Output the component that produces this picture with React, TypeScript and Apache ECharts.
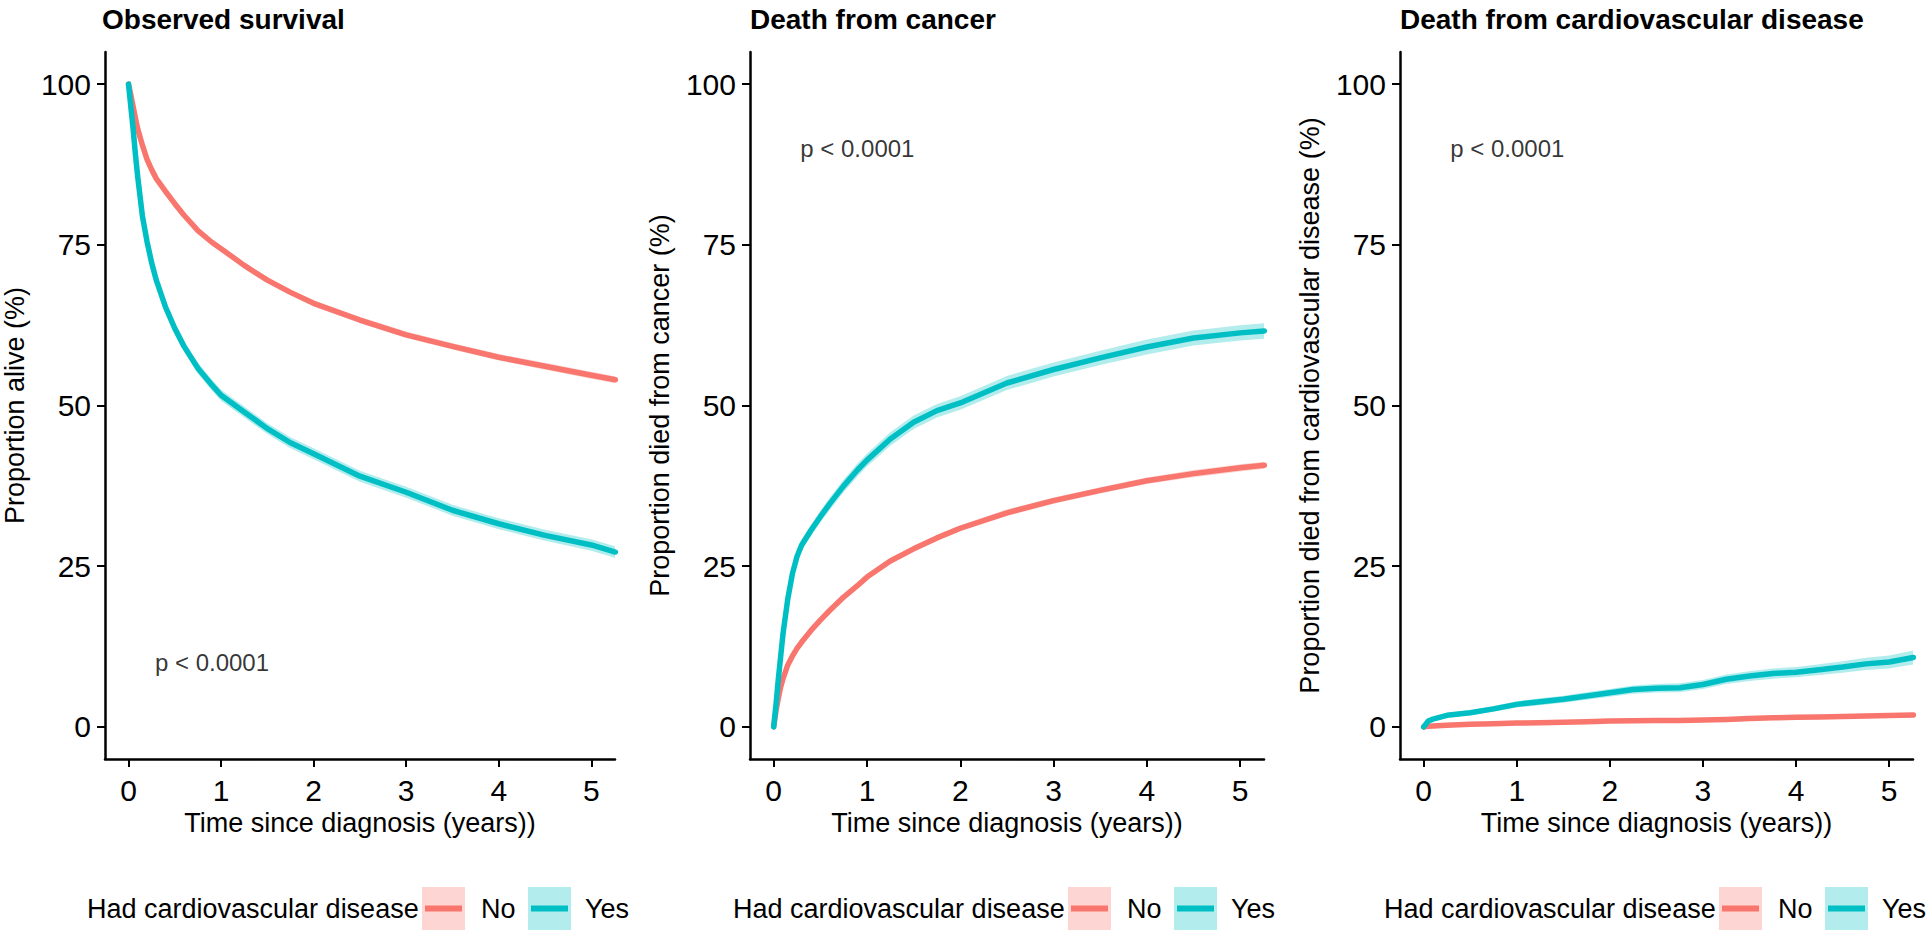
import React, { useEffect, useRef } from "react";
import * as echarts from "echarts";

// ---------- data ----------
const TIME = [0, 0.025, 0.05, 0.075, 0.1, 0.15, 0.2, 0.25, 0.3, 0.4, 0.5, 0.6, 0.75, 0.9, 1.0, 1.25, 1.5, 1.75, 2.0, 2.5, 3.0, 3.5, 4.0, 4.5, 5.0, 5.26];

const survivalNo = [100, 98.3, 96.5, 94.7, 93, 90.5, 88.3, 86.7, 85.3, 83.3, 81.4, 79.6, 77.2, 75.4, 74.4, 71.8, 69.5, 67.6, 65.9, 63.3, 61.0, 59.2, 57.5, 56.1, 54.7, 54.0];
const survivalYes = [100, 96.5, 93, 89, 85.5, 79.5, 75.5, 72.2, 69.5, 65.3, 62, 59.2, 55.8, 53.2, 51.6, 49.0, 46.4, 44.2, 42.5, 39.0, 36.5, 33.7, 31.6, 29.8, 28.3, 27.2];
const survivalNoCI = [0, 0.15, 0.2, 0.2, 0.25, 0.3, 0.3, 0.3, 0.35, 0.35, 0.35, 0.4, 0.4, 0.4, 0.4, 0.45, 0.45, 0.45, 0.45, 0.5, 0.5, 0.5, 0.5, 0.55, 0.55, 0.55];
const survivalYesCI = [0, 0.35, 0.5, 0.55, 0.6, 0.65, 0.7, 0.7, 0.75, 0.8, 0.8, 0.8, 0.85, 0.85, 0.85, 0.85, 0.85, 0.85, 0.85, 0.85, 0.85, 0.85, 0.85, 0.85, 0.9, 0.9];

const cancerNo = [0, 2.5, 4.5, 6.2, 7.5, 9.6, 11, 12.2, 13.2, 15, 16.6, 18.1, 20.2, 22.0, 23.3, 25.8, 27.7, 29.4, 30.9, 33.3, 35.2, 36.8, 38.3, 39.4, 40.3, 40.7];
const cancerYes = [0, 3.5, 7.5, 11, 14.5, 19.8, 23.8, 26.5, 28.3, 30.6, 32.7, 34.7, 37.5, 40, 41.5, 44.8, 47.4, 49.2, 50.4, 53.5, 55.6, 57.4, 59.1, 60.5, 61.3, 61.6];
const cancerNoCI = [0, 0.15, 0.2, 0.2, 0.25, 0.3, 0.3, 0.3, 0.35, 0.35, 0.35, 0.4, 0.4, 0.4, 0.4, 0.45, 0.45, 0.45, 0.45, 0.5, 0.5, 0.5, 0.5, 0.55, 0.55, 0.55];
const cancerYesCI = [0, 0.25, 0.4, 0.5, 0.6, 0.7, 0.8, 0.8, 0.85, 0.9, 0.9, 0.95, 1.0, 1.0, 1.0, 1.05, 1.05, 1.05, 1.05, 1.1, 1.1, 1.1, 1.15, 1.15, 1.2, 1.2];

const TIME_CVD = [0, 0.05, 0.1, 0.25, 0.5, 0.75, 1.0, 1.25, 1.5, 1.75, 2.0, 2.25, 2.5, 2.75, 3.0, 3.25, 3.5, 3.75, 4.0, 4.25, 4.5, 4.75, 5.0, 5.26];
const cvdNo = [0, 0.1, 0.15, 0.25, 0.4, 0.5, 0.6, 0.65, 0.7, 0.8, 0.9, 0.95, 1.0, 1.0, 1.05, 1.15, 1.3, 1.4, 1.5, 1.55, 1.6, 1.7, 1.75, 1.85];
const cvdYes = [0, 0.9, 1.2, 1.8, 2.2, 2.8, 3.5, 3.9, 4.3, 4.8, 5.3, 5.8, 6.0, 6.1, 6.6, 7.4, 7.9, 8.3, 8.5, 8.9, 9.3, 9.8, 10.1, 10.8];
const cvdNoCI = [0, 0.05, 0.05, 0.1, 0.1, 0.15, 0.15, 0.15, 0.2, 0.2, 0.2, 0.2, 0.25, 0.25, 0.25, 0.25, 0.3, 0.3, 0.3, 0.3, 0.3, 0.35, 0.35, 0.35];
const cvdYesCI = [0, 0.2, 0.3, 0.35, 0.4, 0.45, 0.5, 0.55, 0.55, 0.6, 0.6, 0.65, 0.65, 0.7, 0.7, 0.75, 0.75, 0.8, 0.8, 0.85, 0.9, 0.95, 1.0, 1.1];

const X_TICKS = [0, 1, 2, 3, 4, 5];
const Y_TICKS = [0, 25, 50, 75, 100];
const GROUPS = ["No", "Yes"];
const LEGEND_TITLE = "Had cardiovascular disease";
const P_TEXT = "p < 0.0001";
const P_POS = [[0.28, 10], [0.28, 90], [0.28, 90]];
const TITLES = ["Observed survival", "Death from cancer", "Death from cardiovascular disease"];
const Y_NAMES = ["Proportion alive (%)", "Proportion died from cancer (%)", "Proportion died from cardiovascular disease (%)"];
const X_NAME = "Time since diagnosis (years))";

// ---------- styling / layout ----------
const FONT = "'Liberation Sans', Arial, Helvetica, sans-serif";
const COLORS = ["#F8766D", "#00BFC4"];
const BANDS = ["rgba(248,118,109,0.3)", "rgba(0,191,196,0.3)"];
const PANELS = [
  { left: 102, width: 513, legendLeft: 87 },
  { left: 750, width: 514, legendLeft: 733 },
  { left: 1400, width: 513, legendLeft: 1384 },
];
const GRID_TOP = 52;
const GRID_H = 707;

const PANEL_DATA = [
  { t: TIME, lines: [survivalNo, survivalYes], ci: [survivalNoCI, survivalYesCI] },
  { t: TIME, lines: [cancerNo, cancerYes], ci: [cancerNoCI, cancerYesCI] },
  { t: TIME_CVD, lines: [cvdNo, cvdYes], ci: [cvdNoCI, cvdYesCI] },
];

function bandSeries(p: number, g: number) {
  const d = PANEL_DATA[p];
  const vals = d.lines[g];
  const ci = d.ci[g];
  const rows = d.t.map((t, i) => [t, vals[i] - ci[i], vals[i] + ci[i]]);
  return {
    type: "custom",
    xAxisIndex: p,
    yAxisIndex: p,
    silent: true,
    clip: true,
    encode: { x: 0, y: [1, 2] },
    data: rows,
    renderItem: (params: any, api: any) => {
      if (params.dataIndex !== 0) return null;
      const upper = rows.map((r) => api.coord([r[0], r[2]]));
      const lower = rows.map((r) => api.coord([r[0], r[1]])).reverse();
      return {
        type: "polygon",
        shape: { points: upper.concat(lower) },
        style: { fill: BANDS[g] },
      };
    },
    z: 1,
  };
}

function lineSeries(p: number, g: number) {
  const d = PANEL_DATA[p];
  return {
    type: "line",
    name: GROUPS[g],
    xAxisIndex: p,
    yAxisIndex: p,
    showSymbol: false,
    symbol: "none",
    silent: true,
    data: d.t.map((t, i) => [t, d.lines[g][i]]),
    lineStyle: { color: COLORS[g], width: 5.5, cap: "round", join: "round" },
    z: 2 + g,
  };
}

function pSeries(p: number) {
  return {
    type: "scatter",
    xAxisIndex: p,
    yAxisIndex: p,
    silent: true,
    symbolSize: 1,
    itemStyle: { color: "rgba(0,0,0,0)" },
    data: [P_POS[p]],
    label: {
      show: true,
      position: "right",
      distance: 0,
      formatter: P_TEXT,
      fontSize: 24,
      fontFamily: FONT,
      color: "#000",
    },
    z: 5,
  };
}

function legendGroup(left: number) {
  const cy = 21.5;
  const text = (s: string, x: number) => ({
    type: "text",
    x,
    y: cy,
    style: { text: s, fontSize: 27, fontFamily: FONT, fill: "#000", verticalAlign: "middle", align: "left" },
  });
  const key = (x: number, g: number) => [
    { type: "rect", shape: { x, y: 0, width: 43, height: 43 }, style: { fill: BANDS[g] } },
    { type: "line", shape: { x1: x + 3, y1: cy, x2: x + 40, y2: cy }, style: { stroke: COLORS[g], lineWidth: 6 } },
  ];
  return {
    type: "group",
    x: left,
    y: 887,
    children: [
      text(LEGEND_TITLE, 0),
      ...key(335, 0),
      text(GROUPS[0], 394),
      ...key(441, 1),
      text(GROUPS[1], 498),
    ],
  };
}

function buildOption() {
  const axisLine = { show: true, onZero: false, lineStyle: { color: "#000", width: 2.5 } };
  const axisTick = (vals: number[]) => ({ show: true, length: 8, lineStyle: { color: "#000", width: 2 }, customValues: vals });
  return {
    animation: false,
    backgroundColor: "#fff",
    title: PANELS.map((pn, i) => ({
      text: TITLES[i],
      left: pn.left,
      top: 5,
      padding: 0,
      textStyle: { fontSize: 28, fontWeight: "bold", fontFamily: FONT, color: "#000" },
    })),
    grid: PANELS.map((pn) => ({ left: pn.left, top: GRID_TOP, width: pn.width, height: GRID_H, containLabel: false })),
    xAxis: PANELS.map((_, i) => ({
      type: "value",
      gridIndex: i,
      min: -0.254,
      max: 5.256,
      name: X_NAME,
      nameLocation: "middle",
      nameGap: 48,
      nameTextStyle: { fontSize: 27, fontFamily: FONT, color: "#000" },
      axisLine,
      axisTick: axisTick(X_TICKS),
      axisLabel: { customValues: X_TICKS, fontSize: 30, fontFamily: FONT, color: "#000", margin: 16 },
      splitLine: { show: false },
    })),
    yAxis: PANELS.map((_, i) => ({
      type: "value",
      gridIndex: i,
      min: -5,
      max: 105,
      name: Y_NAMES[i],
      nameLocation: "middle",
      nameGap: 77,
      nameTextStyle: { fontSize: 27, fontFamily: FONT, color: "#000" },
      axisLine,
      axisTick: axisTick(Y_TICKS),
      axisLabel: { customValues: Y_TICKS, fontSize: 30, fontFamily: FONT, color: "#000", margin: 14 },
      splitLine: { show: false },
    })),
    series: PANELS.flatMap((_, p) => [
      bandSeries(p, 0),
      bandSeries(p, 1),
      lineSeries(p, 0),
      lineSeries(p, 1),
      pSeries(p),
    ]),
    graphic: PANELS.map((pn) => legendGroup(pn.legendLeft)),
  };
}

export default function App() {
  const ref = useRef<HTMLDivElement>(null);
  useEffect(() => {
    if (!ref.current) return;
    const chart = echarts.init(ref.current, null, { renderer: "svg" });
    chart.setOption(buildOption() as any);
    return () => chart.dispose();
  }, []);
  return (
    <div
      ref={ref}
      style={{ position: "fixed", left: 0, top: 0, width: 1926, height: 944, background: "#fff" }}
    />
  );
}
